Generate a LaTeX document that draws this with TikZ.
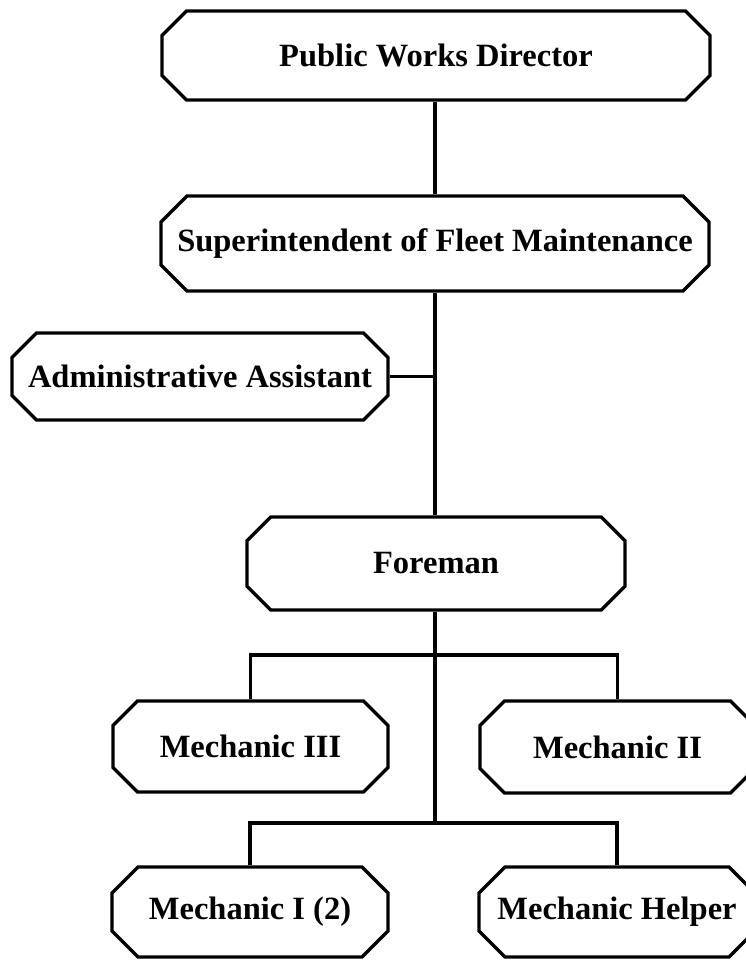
\documentclass[tikz,border=0pt]{standalone}
\usepackage{fontspec}
\setmainfont{Liberation Serif}
\usetikzlibrary{shapes.misc}
\begin{document}
\begin{tikzpicture}[x=1pt,y=-1pt,
  post/.style={chamfered rectangle, chamfered rectangle xsep=13pt,
    chamfered rectangle ysep=13pt, draw, line width=3.4pt, fill=white,
    inner sep=0pt, font=\fontsize{32.5}{37}\selectfont\bfseries},
  link/.style={line width=3.4pt}]
\useasboundingbox (0,0) rectangle (745,960);

% chart posts
\node[post, minimum width=548pt, minimum height=89pt] (pwd) at (436,55.5) {Public Works Director};
\node[post, minimum width=548pt, minimum height=95pt] (sup) at (435,243.5) {Superintendent of Fleet Maintenance};
\node[post, minimum width=376pt, minimum height=87pt] (admin) at (200,376.5) {Administrative Assistant};
\node[post, minimum width=378pt, minimum height=93pt] (fore) at (436,563.5) {Foreman};
\node[post, minimum width=275pt, minimum height=91pt] (m3) at (250.5,746.5) {Mechanic III};
\node[post, minimum width=275pt, minimum height=92pt] (m2) at (617.5,747) {Mechanic II};
\node[post, minimum width=276pt, minimum height=90pt] (m1) at (250,912) {Mechanic I (2)};
\node[post, minimum width=276pt, minimum height=90pt] (mh) at (617,912) {Mechanic Helper};

\coordinate (j1) at (435,655);
\coordinate (j2) at (435,823);

% reporting lines
\draw[link] (pwd.south -| sup.north) -- (sup.north);
\draw[link] (sup.south) -- (fore.north -| sup.south);
\draw[link] (admin.east) -- (admin.east -| sup.south);
\draw[link] (fore.south -| j2) -- (j2);
\draw[link] (m3.north) |- (j1) -| (m2.north);
\draw[link] (m1.north) |- (j2) -| (mh.north);
\end{tikzpicture}
\end{document}
